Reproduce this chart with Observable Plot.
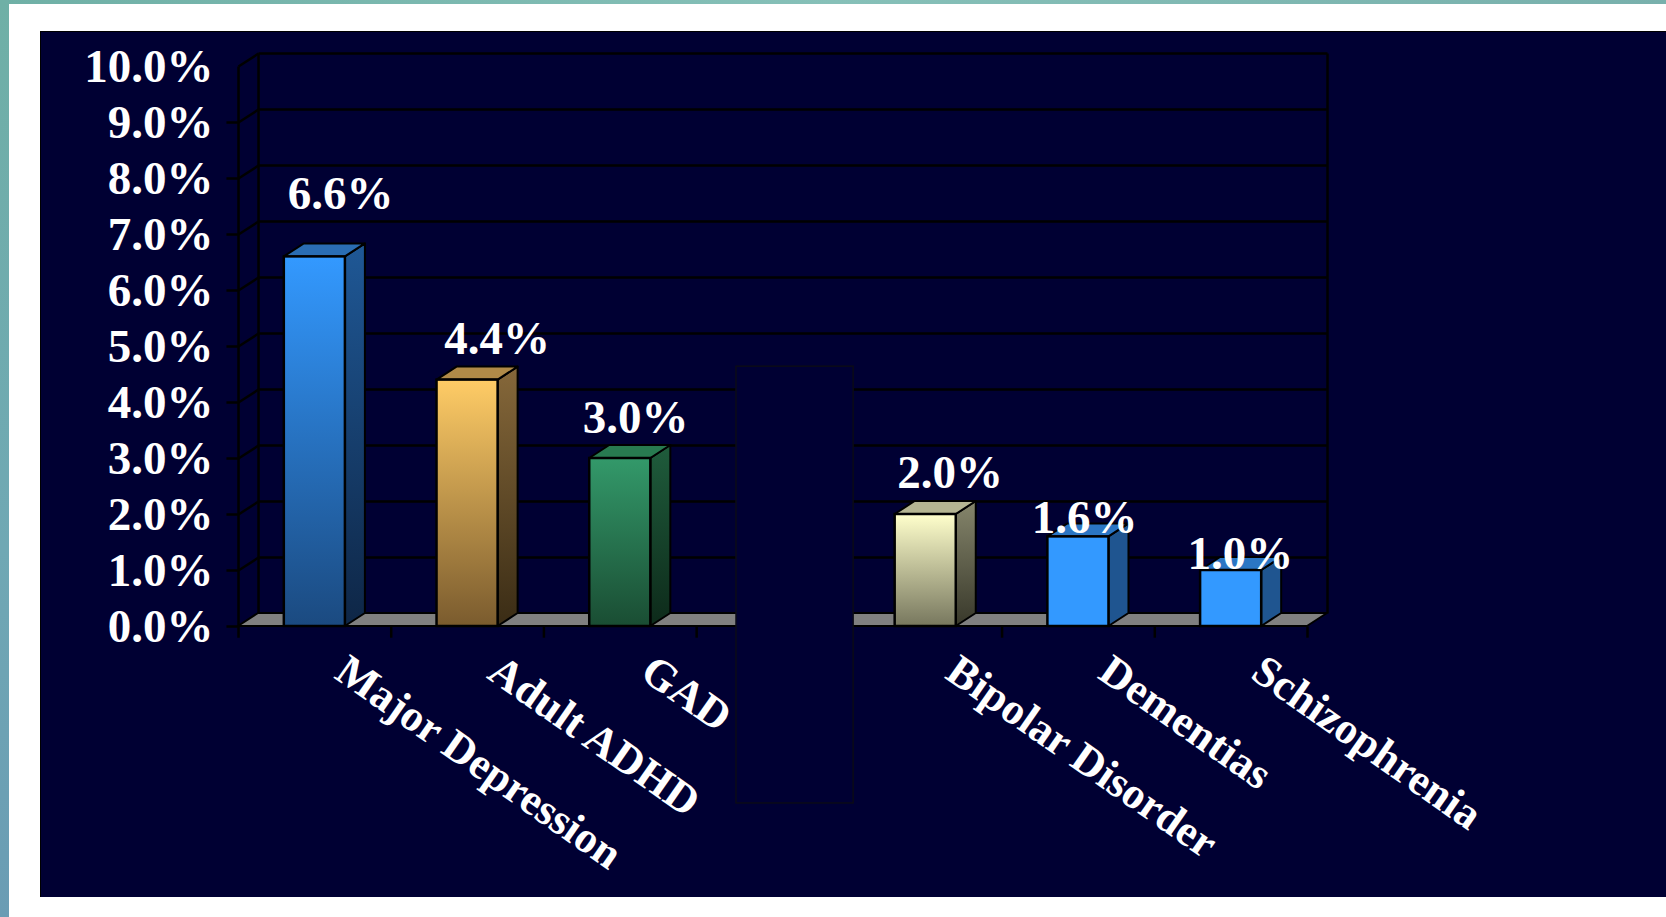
<!DOCTYPE html>
<html><head><meta charset="utf-8">
<script src="https://cdn.jsdelivr.net/npm/d3@7"></script>
<script src="https://cdn.jsdelivr.net/npm/@observablehq/plot@0.6"></script>
<style>
html,body{margin:0;padding:0;background:#fff;}
#page{position:relative;width:1666px;height:917px;overflow:hidden;background:#fff;}
#tealTop{position:absolute;left:0;top:0;width:1666px;height:4px;background:linear-gradient(90deg,#6fb0a6,#86c0b8 50%,#78b0ac);}
#tealLeft{position:absolute;left:0;top:0;width:9px;height:917px;background:linear-gradient(180deg,#6fb0a6,#70a8b4 60%,#6a9cb4);}
#panel{position:absolute;left:40px;top:31px;width:1626px;height:866px;background:#000033;border-top:1px solid #000;border-left:1px solid #000;box-sizing:border-box;}
#chart{position:absolute;left:0;top:0;}
</style></head>
<body><div id="page"><div id="tealTop"></div><div id="tealLeft"></div><div id="panel"></div><div id="chart"></div></div>
<script>
// ---- data ----
const categories = ["Major Depression", "Adult ADHD", "GAD", "", "Bipolar Disorder", "Dementias", "Schizophrenia"];
const values = [6.6, 4.4, 3.0, null, 2.0, 1.6, 1.0];
const valueLabels = ["6.6%", "4.4%", "3.0%", "", "2.0%", "1.6%", "1.0%"];
const yTicks = [0, 1, 2, 3, 4, 5, 6, 7, 8, 9, 10];
const yTickLabels = ["0.0%", "1.0%", "2.0%", "3.0%", "4.0%", "5.0%", "6.0%", "7.0%", "8.0%", "9.0%", "10.0%"];
const hiddenIndex = 3;

// ---- styles (palette) ----
const frontTop    = ["#3399ff", "#ffcc66", "#33996a", null, "#ffffcc", "#3399ff", "#3399ff"];
const frontBottom = ["#1b4a80", "#7a5b2e", "#1a4d33", null, "#77775e", "#3399ff", "#3399ff"];
const sideTop     = ["#1f5896", "#86683a", "#1f5c3c", null, "#86866c", "#1f5590", "#1f5590"];
const sideBottom  = ["#0e2646", "#3a2c15", "#0d2a1a", null, "#38382a", "#1f5590", "#1f5590"];
const topFace     = ["#2a6db3", "#b08a48", "#287a50", null, "#b5b593", "#2b76c4", "#2b76c4"];

// ---- layout helpers (in data units) ----
const NCAT = categories.length;
const DX = 0.131;   // depth in category units
const DY = 0.232;   // depth in percentage points
const BL = 0.30, BR = 0.70;
const TICK = 0.2;
// label placement tweaks (offset above value, horizontal position in band)
const labelLift = [1.13, 0.74, 0.73, 0, 0.75, 0.33, 0.30];
const labelX    = [0.668, 0.694, 0.60, 0, 0.66, 0.54, 0.56];

const rows = categories.map((c, i) => ({i, c, v: values[i]})).filter(d => d.v != null);

const front = rows.map(d => ({x1: d.i + BL, x2: d.i + BR, y1: 0, y2: d.v, fill: `url(#front${d.i})`}));
const side = rows.flatMap(d => [
  {k: d.i, x: d.i + BR, y1: 0, y2: d.v, fill: `url(#side${d.i})`},
  {k: d.i, x: d.i + BR + DX, y1: DY, y2: d.v + DY, fill: `url(#side${d.i})`}
]);
const topF = rows.flatMap(d => {
  const xl = d.i + BL, xr = d.i + BR, v = d.v, f = topFace[d.i];
  return [
    {k: d.i, x: xl, y1: v, y2: v, fill: f},
    {k: d.i, x: xl + DX, y1: v, y2: v + DY, fill: f},
    {k: d.i, x: xr, y1: v, y2: v + DY, fill: f},
    {k: d.i, x: xr + DX, y1: v + DY, y2: v + DY, fill: f}
  ];
});
const floor = [
  {x: 0, y1: 0, y2: 0}, {x: DX, y1: 0, y2: DY},
  {x: NCAT, y1: 0, y2: DY}, {x: NCAT + DX, y1: DY, y2: DY}
];
const leftDiag = yTicks.map(v => ({x1: 0, y1: v, x2: DX, y2: v + DY}));
const backGrid = yTicks.filter(v => v > 0).map(v => ({x1: DX, y1: v + DY, x2: NCAT + DX, y2: v + DY}));
const backVert = [{x1: DX, y1: DY, x2: DX, y2: 10 + DY}, {x1: NCAT + DX, y1: DY, x2: NCAT + DX, y2: 10 + DY}];
const frontAxis = [{x1: 0, y1: -TICK, x2: 0, y2: 10}];
const catTicks = d3.range(1, NCAT + 1).map(i => ({x1: i, y1: 0, x2: i, y2: -TICK}));
const yTickMarks = yTicks.filter(v => v < 10).map(v => ({x1: 0, y1: v, x2: -0.079, y2: v}));
const yLabels = yTicks.map((v, j) => ({x: 0, y: v, t: yTickLabels[j]}));
const vLabels = rows.map(d => ({x: d.i + labelX[d.i], y: d.v + labelLift[d.i], t: valueLabels[d.i]}));
const cLabels = categories.map((c, i) => ({x: i + 0.67, y: -0.70, t: c})).filter(d => d.t);
const cover = [{x1: hiddenIndex + 0.261, x2: hiddenIndex + 1.028, y1: -3.16, y2: 4.64}];

const FONT = "'Liberation Serif', 'Times New Roman', serif";
const line = {stroke: "#000", strokeWidth: 2.5};

const svg = Plot.plot({
  width: 1666, height: 917,
  marginLeft: 238, marginRight: 359, marginTop: 66, marginBottom: 291,
  style: {background: "transparent", overflow: "visible"},
  x: {domain: [0, NCAT], axis: null},
  y: {domain: [0, 10], axis: null},
  color: {type: "identity"},
  marks: [
    Plot.link(backGrid, {x1: "x1", y1: "y1", x2: "x2", y2: "y2", ...line}),
    Plot.link(backVert, {x1: "x1", y1: "y1", x2: "x2", y2: "y2", ...line}),
    Plot.link(leftDiag, {x1: "x1", y1: "y1", x2: "x2", y2: "y2", ...line}),
    Plot.areaY(floor, {x: "x", y1: "y1", y2: "y2", fill: "#808080", stroke: "#000", strokeWidth: 2, curve: "linear"}),
    Plot.areaY(side, {x: "x", y1: "y1", y2: "y2", z: "k", fill: "fill", stroke: "#000", strokeWidth: 2, curve: "linear"}),
    Plot.areaY(topF, {x: "x", y1: "y1", y2: "y2", z: "k", fill: "fill", stroke: "#000", strokeWidth: 2, curve: "linear"}),
    Plot.rect(front, {x1: "x1", x2: "x2", y1: "y1", y2: "y2", fill: "fill", stroke: "#000", strokeWidth: 2.5}),
    Plot.link(frontAxis, {x1: "x1", y1: "y1", x2: "x2", y2: "y2", ...line}),
    Plot.link(catTicks, {x1: "x1", y1: "y1", x2: "x2", y2: "y2", ...line}),
    Plot.link(yTickMarks, {x1: "x1", y1: "y1", x2: "x2", y2: "y2", ...line}),
    Plot.text(yLabels, {x: "x", y: "y", text: "t", dx: -25, textAnchor: "end", fill: "#fff",
      fontFamily: FONT, fontWeight: "bold", fontSize: 47}),
    Plot.text(vLabels, {x: "x", y: "y", text: "t", fill: "#fff",
      fontFamily: FONT, fontWeight: "bold", fontSize: 47}),
    Plot.rect(cover, {x1: "x1", x2: "x2", y1: "y1", y2: "y2", fill: "#000033", stroke: "#0b0b18", strokeWidth: 1.5}),
    Plot.text(cLabels, {x: "x", y: "y", text: "t", rotate: 35, textAnchor: "start", fill: "#fff",
      fontFamily: FONT, fontWeight: "bold", fontSize: 44})
  ]
});

// gradient definitions
const defs = d3.select(svg).insert("defs", ":first-child");
rows.forEach(d => {
  const g1 = defs.append("linearGradient").attr("id", `front${d.i}`).attr("x1", 0).attr("y1", 0).attr("x2", 0).attr("y2", 1);
  g1.append("stop").attr("offset", "0%").attr("stop-color", frontTop[d.i]);
  g1.append("stop").attr("offset", "100%").attr("stop-color", frontBottom[d.i]);
  const g2 = defs.append("linearGradient").attr("id", `side${d.i}`).attr("x1", 0).attr("y1", 0).attr("x2", 0).attr("y2", 1);
  g2.append("stop").attr("offset", "0%").attr("stop-color", sideTop[d.i]);
  g2.append("stop").attr("offset", "100%").attr("stop-color", sideBottom[d.i]);
});

document.getElementById("chart").appendChild(svg);
</script>
</body></html>
